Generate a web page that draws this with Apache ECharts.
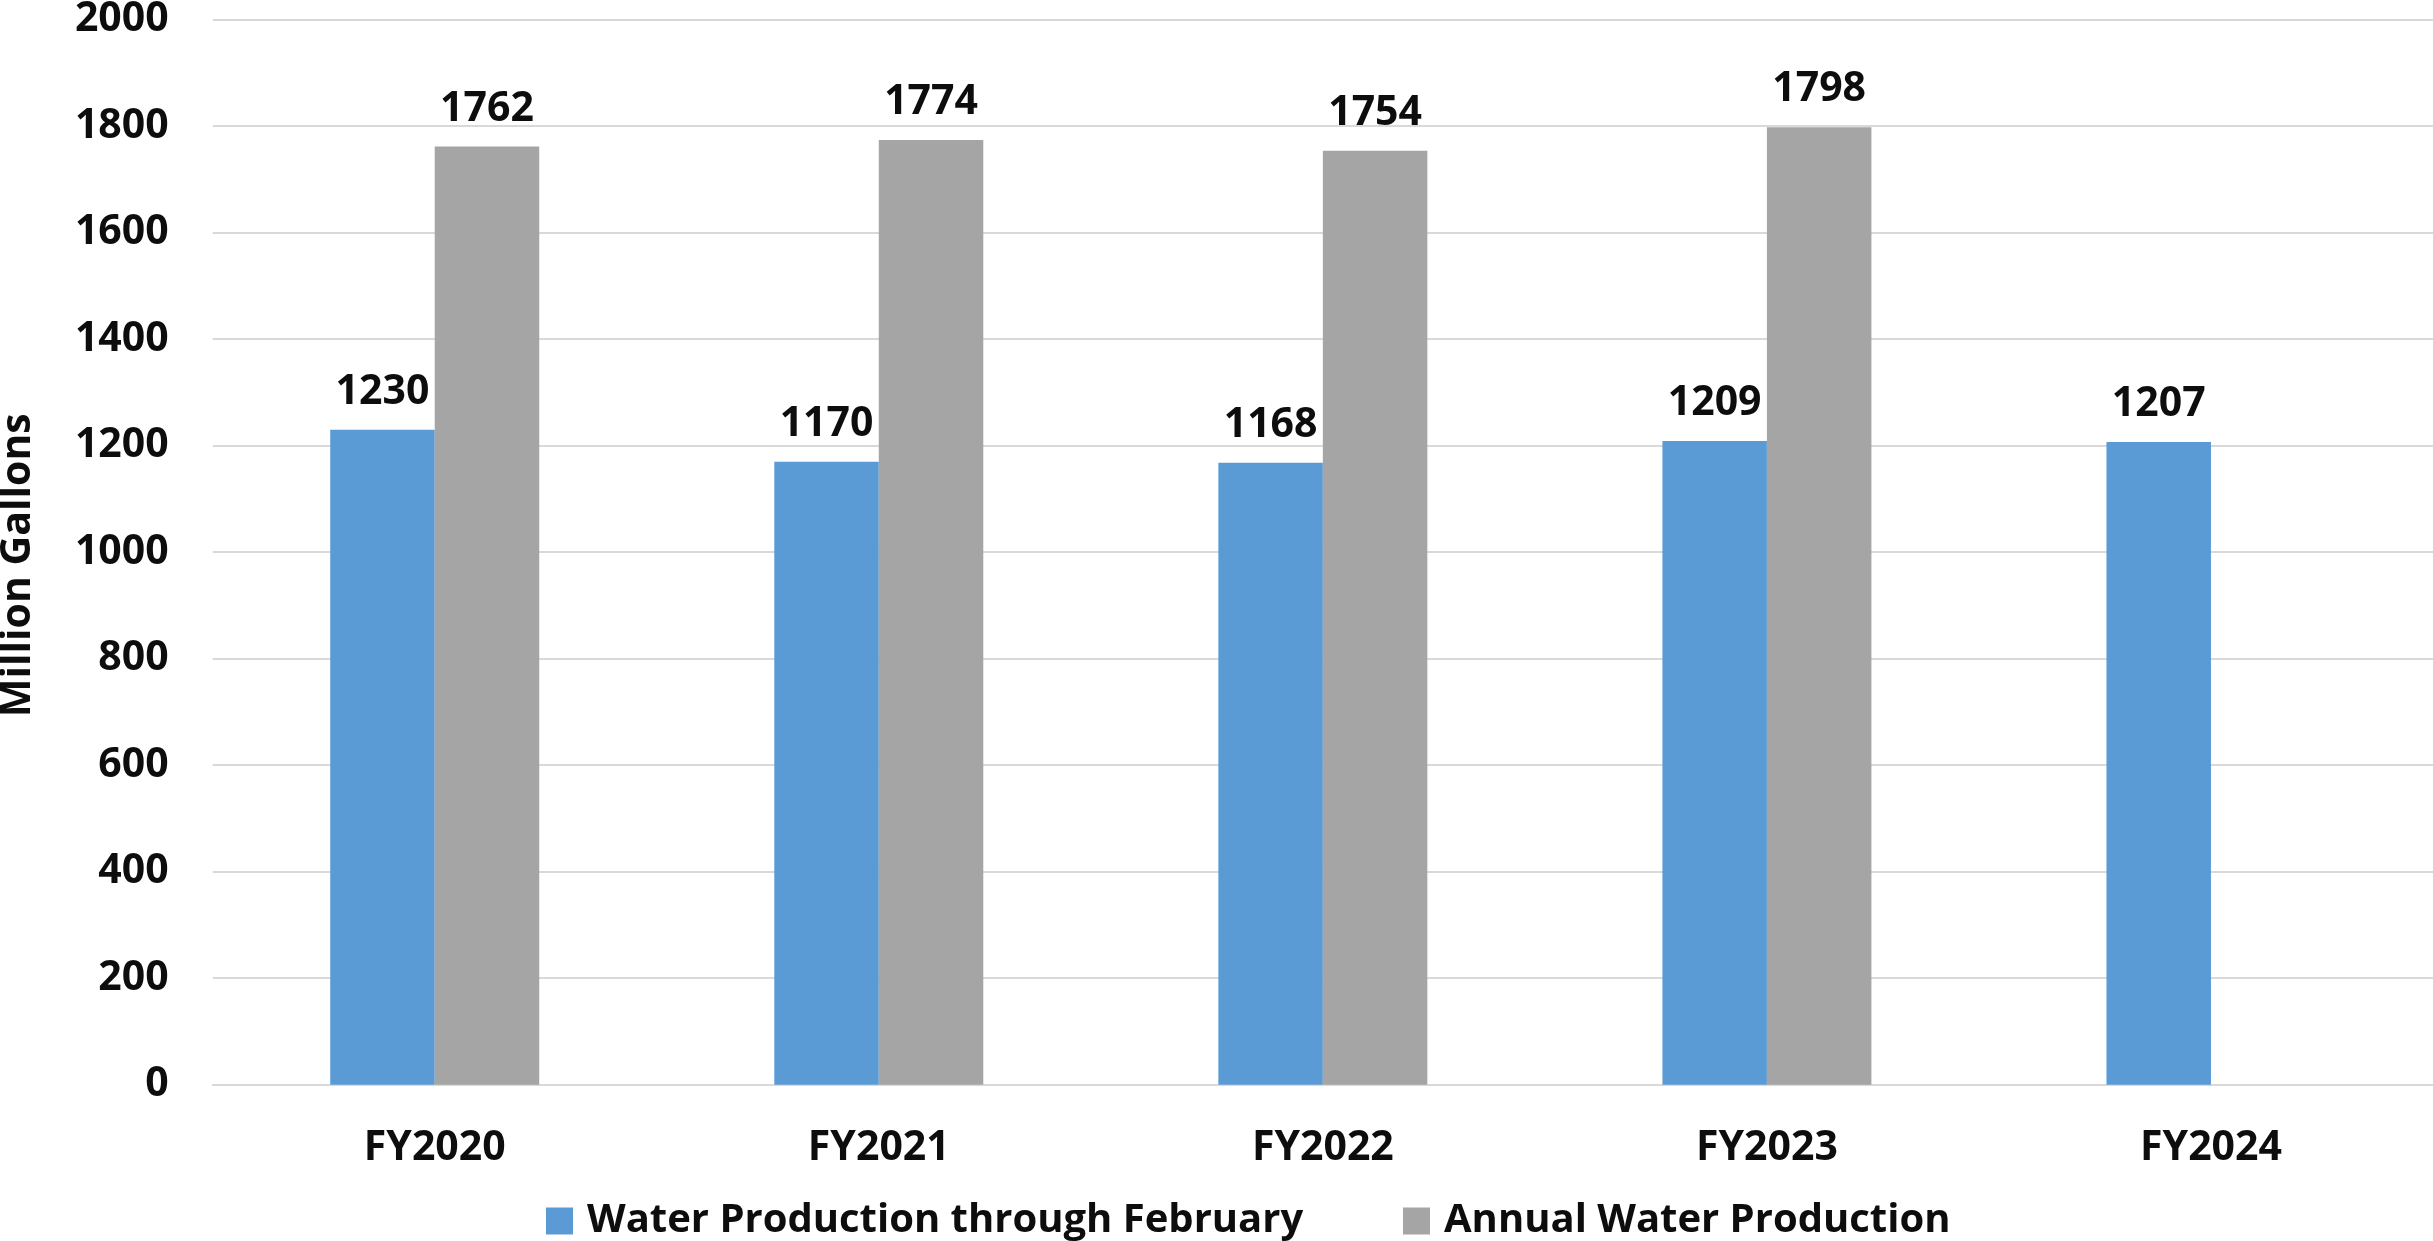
<!DOCTYPE html>
<html>
<head>
<meta charset="utf-8">
<script src="https://cdn.jsdelivr.net/npm/echarts@6/dist/echarts.min.js"></script>
<style>
  html, body { margin: 0; padding: 0; background: #ffffff; }
  #chart { width: 2433px; height: 1241px; }
</style>
</head>
<body>
<div id="chart"></div>
<script>
// Fiscal years on the category axis
const categories = ['FY2020', 'FY2021', 'FY2022', 'FY2023', 'FY2024'];
// Million gallons produced through February of each fiscal year
const throughFebruary = [1230, 1170, 1168, 1209, 1207];
// Full-year production (FY2024 not yet complete)
const annualProduction = [1762, 1774, 1754, 1798, null];
// Value axis ticks
const yMin = 0, yMax = 2000, yStep = 200;

const seriesNames = ['Water Production through February', 'Annual Water Production'];
const seriesColors = ['#5b9bd5', '#a5a5a5'];

const FONT = '"Open Sans", "Noto Sans", sans-serif';
const INK = '#0d0d0d';

const chart = echarts.init(document.getElementById('chart'), null, { renderer: 'canvas' });

const labelStyle = {
  show: true,
  position: 'top',
  distance: 17,
  fontFamily: FONT,
  fontWeight: 'bold',
  fontSize: 41,
  lineHeight: 41,
  color: INK
};

// One legend block per series so each swatch sits at its own spot
function legendBlock(idx, left) {
  return {
    left: left,
    top: 1196,
    itemWidth: 27,
    itemHeight: 27,
    icon: 'rect',
    selectedMode: false,
    textStyle: {
      fontFamily: FONT, fontWeight: 'bold', fontSize: 40, lineHeight: 40,
      color: INK, padding: [0, 0, 0, 9]
    },
    data: [{ name: seriesNames[idx], itemStyle: { color: seriesColors[idx] } }]
  };
}

chart.setOption({
  backgroundColor: '#ffffff',
  animation: false,
  grid: {
    left: 212.7, right: 0, top: 19.7, bottom: 156.3,
    containLabel: false, outerBoundsMode: 'none'
  },
  legend: [legendBlock(0, 541), legendBlock(1, 1398)],
  xAxis: {
    type: 'category',
    data: categories,
    axisLine: { show: true, lineStyle: { color: '#d9d9d9', width: 2 } },
    axisTick: { show: false },
    axisLabel: { fontFamily: FONT, fontWeight: 'bold', fontSize: 41, lineHeight: 41, color: INK, margin: 43 }
  },
  yAxis: {
    type: 'value',
    min: yMin,
    max: yMax,
    interval: yStep,
    name: 'Million Gallons',
    nameLocation: 'middle',
    nameGap: 174,
    nameTextStyle: {
      fontFamily: FONT, fontWeight: 'bold', fontSize: 41, lineHeight: 41,
      color: INK, padding: [0, 26, 0, 0]
    },
    axisLine: { show: false },
    axisTick: { show: false },
    axisLabel: {
      fontFamily: FONT, fontWeight: 'bold', fontSize: 41, color: INK, margin: 44,
      formatter: (v) => String(v)
    },
    splitLine: { lineStyle: { color: '#d9d9d9', width: 2 } }
  },
  series: [
    {
      name: seriesNames[0],
      type: 'bar',
      data: throughFebruary,
      barWidth: 104.5,
      barGap: '0%',
      itemStyle: { color: seriesColors[0] },
      label: labelStyle
    },
    {
      name: seriesNames[1],
      type: 'bar',
      data: annualProduction,
      barWidth: 104.5,
      barGap: '0%',
      itemStyle: { color: seriesColors[1] },
      label: labelStyle
    }
  ]
});
</script>
</body>
</html>
